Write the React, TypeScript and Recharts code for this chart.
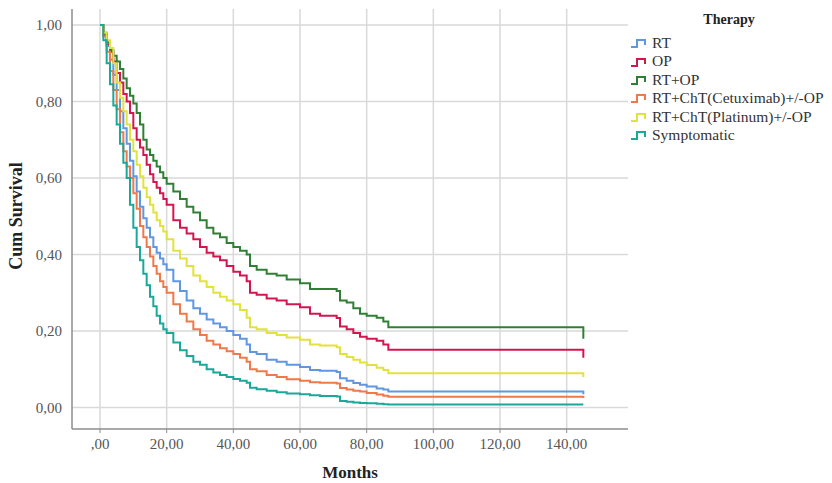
import { Label, Legend, Line, LineChart, ReferenceLine, XAxis, YAxis } from "recharts";

const serif = '"Liberation Serif", "Times New Roman", serif';

// Kaplan-Meier estimates, one value per time point
const months = [
  0, 1, 2, 3, 4, 5, 6, 7, 8, 9, 10, 11, 12, 13, 14, 15, 16, 17, 18, 19, 20,
  22, 24, 26, 28, 30, 32, 34, 36, 38, 40, 42, 44, 45, 47, 50, 53, 56, 60, 63,
  66, 71, 72, 74, 76, 78, 80, 83, 85, 86.5, 145,
];

const rt = [
  1.0, 0.975, 0.945, 0.91, 0.87, 0.83, 0.775, 0.73, 0.69, 0.645, 0.605, 0.565, 0.525, 0.495, 0.47, 0.445, 0.42, 0.405, 0.39, 0.375, 0.36,
  0.33, 0.305, 0.28, 0.26, 0.245, 0.23, 0.22, 0.21, 0.2, 0.19, 0.18, 0.165, 0.145, 0.14, 0.125, 0.12, 0.112, 0.106, 0.098,
  0.096, 0.093, 0.077, 0.07, 0.064, 0.06, 0.055, 0.05, 0.047, 0.042, 0.035,
];

const op = [
  1.0, 0.975, 0.95, 0.93, 0.905, 0.875, 0.85, 0.82, 0.8, 0.77, 0.73, 0.7, 0.68, 0.66, 0.635, 0.61, 0.59, 0.575, 0.56, 0.545, 0.53,
  0.49, 0.47, 0.455, 0.44, 0.42, 0.405, 0.395, 0.385, 0.37, 0.355, 0.345, 0.33, 0.3, 0.295, 0.285, 0.28, 0.27, 0.262, 0.245,
  0.24, 0.234, 0.212, 0.205, 0.195, 0.185, 0.18, 0.175, 0.165, 0.151, 0.13,
];

const rtOp = [
  1.0, 0.98, 0.955, 0.935, 0.92, 0.905, 0.885, 0.86, 0.835, 0.815, 0.795, 0.77, 0.74, 0.7, 0.675, 0.66, 0.645, 0.63, 0.615, 0.6, 0.585,
  0.565, 0.545, 0.525, 0.51, 0.49, 0.47, 0.455, 0.445, 0.43, 0.42, 0.41, 0.4, 0.37, 0.36, 0.35, 0.345, 0.335, 0.325, 0.31,
  0.31, 0.305, 0.28, 0.275, 0.26, 0.245, 0.24, 0.235, 0.225, 0.21, 0.18,
];

const cetuximab = [
  1.0, 0.97, 0.93, 0.88, 0.83, 0.78, 0.72, 0.67, 0.63, 0.6, 0.56, 0.52, 0.475, 0.445, 0.42, 0.395, 0.37, 0.35, 0.33, 0.315, 0.3,
  0.27, 0.245, 0.225, 0.205, 0.19, 0.175, 0.165, 0.155, 0.147, 0.14, 0.13, 0.12, 0.1, 0.095, 0.085, 0.08, 0.074, 0.07, 0.066,
  0.065, 0.063, 0.051, 0.047, 0.044, 0.042, 0.038, 0.034, 0.031, 0.028, 0.025,
];

const platinum = [
  1.0, 0.98, 0.96, 0.94, 0.9, 0.85, 0.81, 0.775, 0.74, 0.7, 0.67, 0.635, 0.605, 0.575, 0.55, 0.53, 0.51, 0.49, 0.475, 0.46, 0.44,
  0.41, 0.39, 0.37, 0.345, 0.33, 0.315, 0.3, 0.29, 0.28, 0.27, 0.255, 0.235, 0.21, 0.205, 0.195, 0.19, 0.183, 0.177, 0.165,
  0.162, 0.158, 0.14, 0.132, 0.125, 0.118, 0.111, 0.104, 0.098, 0.09, 0.08,
];

const symptomatic = [
  1.0, 0.96, 0.9, 0.845, 0.79, 0.74, 0.69, 0.64, 0.6, 0.53, 0.47, 0.42, 0.385, 0.35, 0.32, 0.29, 0.265, 0.24, 0.22, 0.205, 0.195,
  0.17, 0.15, 0.135, 0.12, 0.112, 0.1, 0.092, 0.085, 0.08, 0.075, 0.07, 0.065, 0.052, 0.048, 0.044, 0.04, 0.037, 0.035, 0.032,
  0.03, 0.029, 0.017, 0.015, 0.013, 0.012, 0.011, 0.01, 0.009, 0.008, 0.008,
];

const xTicks = [0, 20, 40, 60, 80, 100, 120, 140];
const yTicks = [0, 0.2, 0.4, 0.6, 0.8, 1.0];

const therapies = [
  { key: "rt", name: "RT", color: "#5f97e2" },
  { key: "op", name: "OP", color: "#d3164f" },
  { key: "rtOp", name: "RT+OP", color: "#2f8034" },
  { key: "cetuximab", name: "RT+ChT(Cetuximab)+/-OP", color: "#f0784a" },
  { key: "platinum", name: "RT+ChT(Platinum)+/-OP", color: "#e2e23c" },
  { key: "symptomatic", name: "Symptomatic", color: "#1aa89b" },
];

const data = months.map((month, i) => ({
  month,
  rt: rt[i],
  op: op[i],
  rtOp: rtOp[i],
  cetuximab: cetuximab[i],
  platinum: platinum[i],
  symptomatic: symptomatic[i],
}));

// SPSS style: comma decimals, no leading zero on the x axis
const fmtX = (v: number) => (v === 0 ? ",00" : v.toFixed(2).replace(".", ","));
const fmtY = (v: number) => v.toFixed(2).replace(".", ",");

function TherapyLegend() {
  return (
    <div style={{ fontFamily: serif, color: "#333", paddingLeft: 2 }}>
      <div style={{ textAlign: "center", fontWeight: "bold", fontSize: 14, height: 28, lineHeight: "28px", color: "#222" }}>
        Therapy
      </div>
      {therapies.map((t) => (
        <div
          key={t.key}
          style={{ display: "flex", alignItems: "center", height: 18.4, lineHeight: "18.4px", fontSize: 15.5, whiteSpace: "nowrap" }}
        >
          <svg width={20} height={12} style={{ flexShrink: 0 }}>
            <path d="M1 10H7V3H15V8" fill="none" stroke={t.color} strokeWidth={2} />
          </svg>
          <span style={{ marginLeft: 2 }}>{t.name}</span>
        </div>
      ))}
    </div>
  );
}

export default function App() {
  return (
    <div style={{ position: "absolute", left: 0, top: 0, width: 832, height: 483, background: "#fff" }}>
      <LineChart width={832} height={483} data={data} margin={{ top: 9, right: 4, bottom: 0, left: 0 }}>
        <XAxis
          dataKey="month"
          type="number"
          domain={[-8.4, 158.4]}
          ticks={xTicks}
          tickFormatter={fmtX}
          height={54}
          axisLine={{ stroke: "#8c8c8c", strokeWidth: 1.5 }}
          tickLine={{ stroke: "#8c8c8c" }}
          tickSize={4}
          tickMargin={5}
          tick={{ fill: "#555", fontSize: 15, fontFamily: serif }}
        >
          <Label
            content={({ viewBox }: any) => (
              <text
                x={viewBox.x + viewBox.width / 2}
                y={viewBox.y + 43}
                textAnchor="middle"
                dominantBaseline="central"
                fontFamily={serif}
                fontWeight="bold"
                fontSize={17}
                fill="#222"
              >
                Months
              </text>
            )}
          />
        </XAxis>
        <YAxis
          type="number"
          domain={[-0.056, 1.042]}
          ticks={yTicks}
          tickFormatter={fmtY}
          width={72}
          axisLine={{ stroke: "#8c8c8c", strokeWidth: 1.5 }}
          tickLine={false}
          tickMargin={4}
          tick={{ fill: "#555", fontSize: 15, fontFamily: serif }}
        >
          <Label
            content={({ viewBox }: any) => {
              const cx = 16;
              const cy = viewBox.y + viewBox.height / 2 - 3;
              return (
                <text
                  x={cx}
                  y={cy}
                  transform={`rotate(-90 ${cx} ${cy})`}
                  textAnchor="middle"
                  dominantBaseline="central"
                  fontFamily={serif}
                  fontWeight="bold"
                  fontSize={18}
                  fill="#222"
                >
                  Cum Survival
                </text>
              );
            }}
          />
        </YAxis>
        {/* grid only at the tick values, no frame */}
        {yTicks.map((v) => (
          <ReferenceLine key={`gy-${v}`} y={v} stroke="#d9d9d9" strokeWidth={1.5} />
        ))}
        {xTicks.map((v) => (
          <ReferenceLine key={`gx-${v}`} x={v} stroke="#d9d9d9" strokeWidth={1.5} />
        ))}
        <Legend
          layout="vertical"
          align="right"
          verticalAlign="top"
          content={() => <TherapyLegend />}
          wrapperStyle={{ top: 6, left: 628, width: 200 }}
        />
        {therapies.map((t) => (
          <Line
            key={t.key}
            dataKey={t.key}
            name={t.name}
            type="stepAfter"
            stroke={t.color}
            strokeWidth={2}
            dot={false}
            isAnimationActive={false}
          />
        ))}
      </LineChart>
    </div>
  );
}
